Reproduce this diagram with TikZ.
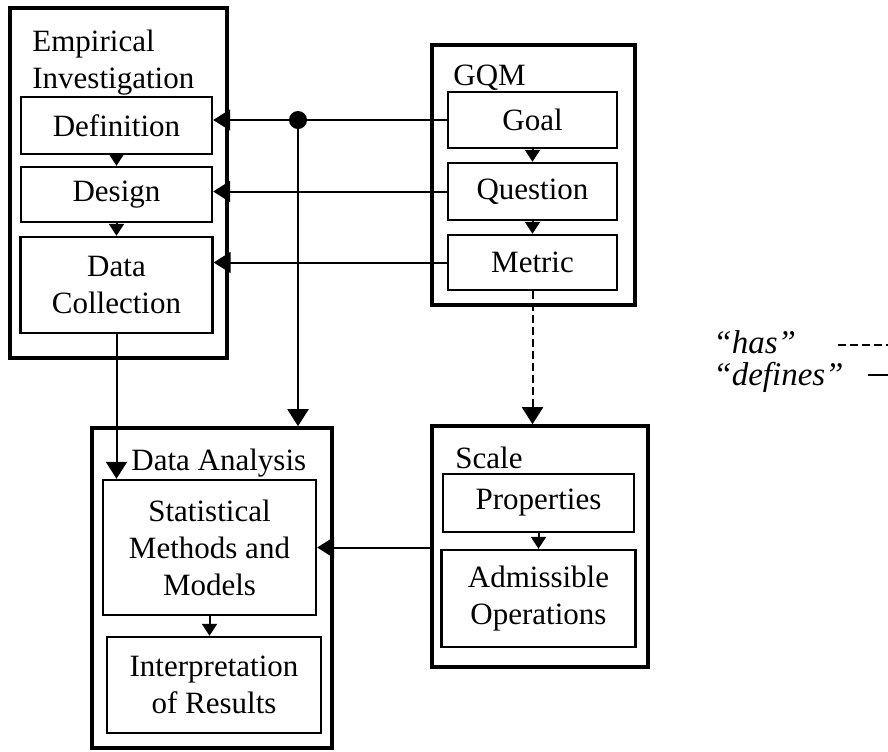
\documentclass[tikz,border=0pt]{standalone}
\usepackage{fontspec}
\setmainfont{Liberation Serif}
\usetikzlibrary{arrows.meta}

\begin{document}
\begin{tikzpicture}[x=0.5pt,y=-0.5pt,
    every node/.style={font=\fontsize{15.5}{18.5}\selectfont},
    outerbox/.style={draw, rectangle, line width=1.8pt, inner sep=0pt},
    innerbox/.style={draw, rectangle, line width=1.2pt, inner sep=0pt, align=center},
    boxtitle/.style={anchor=base west, inner sep=0pt, align=left},
    defines/.style={line width=1pt, -{Triangle[length=8.5pt,width=10.5pt]}},
    has/.style={defines, dash pattern=on 4pt off 2pt},
    next/.style={line width=1pt, -{Triangle[length=6pt,width=7.5pt]}}]

    \useasboundingbox (0,0) rectangle (888,751);

    % Empirical investigation
    \node [outerbox,
    minimum width=108.5pt,
    minimum height=175pt] (EI) at (118.5,183){};
    \node [boxtitle] (EItitle) at (32,88) {Empirical\\Investigation};
    \node [innerbox,
    minimum width=95.5pt,
    minimum height=28.5pt] (Definition) at (116.5,125.5) {Definition};
    \node [innerbox,
    minimum width=95.5pt,
    minimum height=27.5pt] (Design) at (116.5,194.5) {Design};
    \node [innerbox,
    minimum width=96pt,
    minimum height=48pt] (Collection) at (116.5,285) {Data\\Collection};

    % GQM
    \node [outerbox,
    minimum width=101.5pt,
    minimum height=130pt] (GQM) at (533.5,175){};
    \node [boxtitle] (GQMtitle) at (453,85) {GQM};
    \node [innerbox,
    minimum width=84.5pt,
    minimum height=28pt] (Goal) at (532.5,120) {Goal};
    \node [innerbox,
    minimum width=84.5pt,
    minimum height=28.5pt] (Question) at (532.5,191.5) {Question};
    \node [innerbox,
    minimum width=84.5pt,
    minimum height=27.5pt] (Metric) at (532.5,262.5) {Metric};

    % Scale
    \node [outerbox,
    minimum width=108pt,
    minimum height=120.5pt] (Scale) at (540,546.5){};
    \node [boxtitle] (Scaletitle) at (455,468) {Scale};
    \node [innerbox,
    minimum width=95.5pt,
    minimum height=29pt] (Properties) at (538.5,503) {Properties};
    \node [innerbox,
    minimum width=97pt,
    minimum height=48.5pt] (Operations) at (538.5,598.5) {Admissible\\Operations};

    % Data analysis
    \node [outerbox,
    minimum width=120pt,
    minimum height=160pt] (DA) at (212,588){};
    \node [boxtitle] (DAtitle) at (131,470) {Data Analysis};
    \node [innerbox,
    minimum width=106.5pt,
    minimum height=67.5pt] (Methods) at (209.5,547.5) {Statistical\\Methods and\\Models};
    \node [innerbox,
    minimum width=107pt,
    minimum height=48pt] (Results) at (214,685) {Interpretation\\of Results};

    % sequence inside the boxes
    \draw [next] (Definition) -- (Design);
    \draw [next] (Design) -- (Collection);
    \draw [next] (Goal) -- (Question);
    \draw [next] (Question) -- (Metric);
    \draw [next] (Properties) -- (Operations);
    \draw [next] (Methods.south) -- (Methods.south |- Results.north);

    % "defines"
    \node [circle, fill, inner sep=0pt, minimum size=9pt] (join) at (298,120){};
    \draw [defines] (Goal.west) -- (Goal.west -| Definition.east);
    \draw [defines] (Question.west) -- (Question.west -| Design.east);
    \draw [defines] (Metric.west) -- (Metric.west -| Collection.east);
    \draw [defines] (join.center) -- (join |- DA.north);
    \draw [defines] (Collection.south) -- (Collection.south |- Methods.north);
    \draw [defines] (Scale.west |- Methods.east) -- (Methods.east);

    % "has"
    \draw [has] (Metric.south) -- (Metric.south |- Scale.north);

    % legend
    \node [boxtitle] (haslabel) at (713,353) {\fontsize{16.5}{19}\selectfont\itshape ``has''};
    \node [boxtitle] (defineslabel) at (713,385) {\fontsize{16.5}{19}\selectfont\itshape ``defines''};
    \coordinate (hasA) at (838,345);
    \coordinate (hasB) at (888,345);
    \coordinate (definesA) at (868,375);
    \coordinate (definesB) at (888,375);
    \draw [line width=1pt, dash pattern=on 4pt off 2pt] (hasA) -- (hasB);
    \draw [line width=1pt] (definesA) -- (definesB);
\end{tikzpicture}
\end{document}
